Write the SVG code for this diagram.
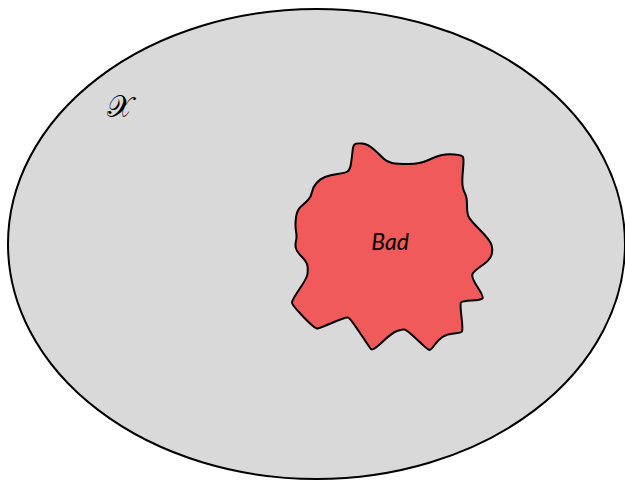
<svg xmlns="http://www.w3.org/2000/svg" width="625" height="480" viewBox="0 0 625 480">
<style>
.outline{stroke:#000;stroke-width:2;stroke-linejoin:round}
.lbl{font-family:"Lato","Open Sans","DejaVu Sans",sans-serif;font-style:italic;font-size:23px;fill:#000}
</style>
<rect width="625" height="480" fill="#fff"/>
<g id="space">
<ellipse class="outline" cx="316.5" cy="244" rx="308.5" ry="235" fill="#d9d9d9"/>
<text x="107" y="117" font-family="'DejaVu Serif','Noto Sans',serif" font-size="30" fill="#000">𝒳</text>
</g>
<g id="bad">
<path class="outline" fill="#f05a5a" d="M 354.5,144.5 Q 356,143 362,143.5 Q 368,144 374,149.5 Q 380,155 383.5,158.5 Q 387,162 392,163 Q 397,164 408.5,164 Q 420,164 428.5,160 Q 437,156 442,155 Q 447,154 454.5,154.5 Q 462,155 463,157 Q 464,159 463,169.5 Q 462,180 462.5,185 Q 463,190 465,193.5 Q 467,197 467,205 Q 467,213 468.5,216.5 Q 470,220 480,230 Q 490,240 491.5,245 Q 493,250 491.5,255 Q 490,260 482,265.5 Q 474,271 472.5,274 Q 471,277 477.5,287 Q 484,297 482.5,298.5 Q 481,300 471.5,300.5 Q 462,301 461,302.5 Q 460,304 461.5,317 Q 463,330 462,331.5 Q 461,333 454,333.5 Q 447,334 442.5,337 Q 438,340 434.5,345 Q 431,350 429.5,350 Q 428,350 417.5,340 Q 407,330 404.5,329.5 Q 402,329 397,331 Q 392,333 384.5,340 Q 377,347 374.5,348.5 Q 372,350 371,349 Q 370,348 360,333 Q 350,318 348,317.5 Q 346,317 333,322.5 Q 320,328 317.5,328.5 Q 315,329 303.5,317 Q 292,305 292,302.5 Q 292,300 299.5,289 Q 307,278 307.5,274 Q 308,270 307.5,266 Q 307,262 302,257 Q 297,252 296,248.5 Q 295,245 296,241 Q 297,237 296,231 Q 295,225 296,217.5 Q 297,210 301,206.5 Q 305,203 308,200 Q 311,197 312,192 Q 313,187 316.5,183 Q 320,179 325,177 Q 330,175 337.5,174 Q 345,173 347.5,171.5 Q 350,170 351,163.5 Q 352,157 352.5,151.5 Q 353,146 354.5,144.5 Z"/>
<text class="lbl" x="390" y="250" text-anchor="middle">Bad</text>
</g>
</svg>
